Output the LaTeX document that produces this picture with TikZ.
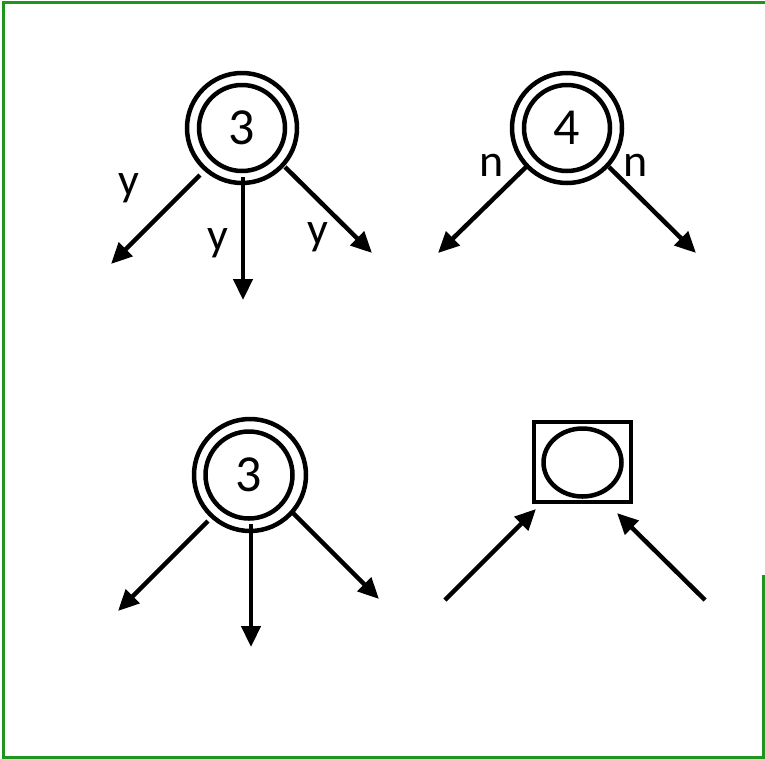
\documentclass[tikz,border=0pt]{standalone}
\usepackage{fontspec}
\setmainfont{Carlito}
\usetikzlibrary{arrows.meta,shapes.geometric}
\definecolor{framegreen}{RGB}{30,150,30}
\tikzset{
  ring/.style={circle,draw,line width=4.5pt,minimum size=#1,inner sep=0pt},
  arr/.style={line width=4.5pt,-{Triangle[length=21pt,width=19pt]}},
  lbl/.style={font=\fontsize{46}{48}\selectfont,inner sep=0pt},
  num/.style={font=\fontsize{52}{54}\selectfont,inner sep=0pt}
}
\begin{document}
\begin{tikzpicture}[x=1pt,y=-1pt]
\useasboundingbox (0,0) rectangle (765,758);
% frame
\draw[framegreen,line width=3pt] (763,575) -- (763,757) -- (3,757) -- (3,2) -- (765,2);
% top-left state 3
\node[ring=110] (o1) at (242,128) {};
\node[ring=86,num] (i1) at (242,128) {3};
\coordinate (a1s) at (200,175); \coordinate (a1e) at (111,264);
\coordinate (a2s) at (243,177); \coordinate (a2e) at (243,300);
\coordinate (a3s) at (285,167); \coordinate (a3e) at (372,253);
\draw[arr] (a1s) -- (a1e);
\draw[arr] (a2s) -- (a2e);
\draw[arr] (a3s) -- (a3e);
\node[lbl] (y1) at (129,188) {y};
\node[lbl] (y2) at (218,243) {y};
\node[lbl] (y3) at (318,237) {y};
% top-right state 4
\node[ring=110] (o2) at (567,128) {};
\node[ring=86,num] (i2) at (567,128) {4};
\coordinate (b1s) at (526,167); \coordinate (b1e) at (438,253);
\coordinate (b2s) at (609,167); \coordinate (b2e) at (696,253);
\draw[arr] (b1s) -- (b1e);
\draw[arr] (b2s) -- (b2e);
\node[lbl] (n1) at (492,165) {n};
\node[lbl] (n2) at (636,165) {n};
% bottom-left state 3
\node[ring=112] (o3) at (250,475) {};
\node[ring=87,num] (i3) at (249,475) {3};
\coordinate (c1s) at (208,521); \coordinate (c1e) at (118,611);
\coordinate (c2s) at (251,524); \coordinate (c2e) at (251,647);
\coordinate (c3s) at (293,513); \coordinate (c3e) at (379,599);
\draw[arr] (c1s) -- (c1e);
\draw[arr] (c2s) -- (c2e);
\draw[arr] (c3s) -- (c3e);
% bottom-right box with ellipse
\node[draw,line width=4.5pt,minimum width=97pt,minimum height=80pt,inner sep=0pt] (box) at (582.5,462) {};
\node[ellipse,draw,line width=4.5pt,minimum width=78pt,minimum height=68pt,inner sep=0pt] (ell) at (582.5,462.5) {};
\coordinate (d1s) at (445,600); \coordinate (d1e) at (536,509);
\coordinate (d2s) at (705,600); \coordinate (d2e) at (617,513);
\draw[arr] (d1s) -- (d1e);
\draw[arr] (d2s) -- (d2e);
\end{tikzpicture}
\end{document}
